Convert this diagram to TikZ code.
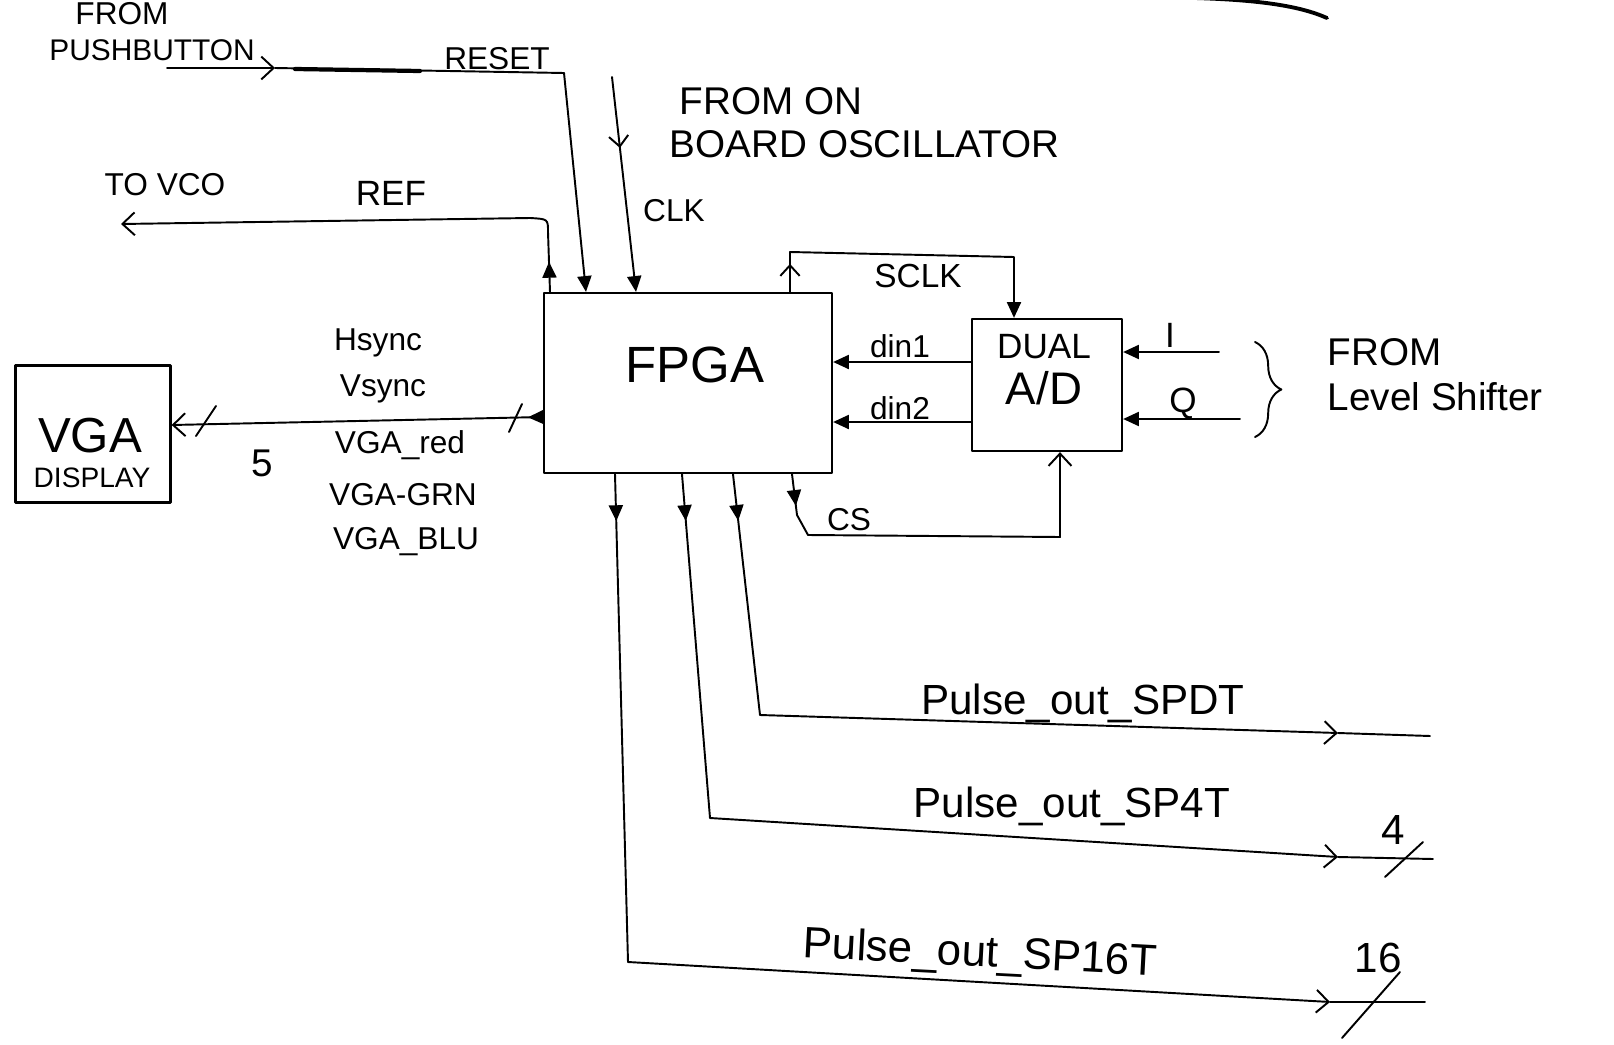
\documentclass[tikz,border=0pt]{standalone}
\usepackage{fontspec}
\setmainfont{Liberation Sans}
\usetikzlibrary{arrows.meta,decorations.markings,decorations.pathreplacing,calc}
\begin{document}
\begin{tikzpicture}[x=0.02cm,y=-0.02cm,
  line width=1.1pt, line cap=round, line join=round,
  box/.style={draw, rectangle, inner sep=0pt, line width=1.3pt},
  lbl/.style={inner sep=0pt, font=\fontsize{#1}{#1}\selectfont},
  ftip/.style={-{Triangle[length=9pt,width=8pt]}},
  otip/.style={-{Straight Barb[length=7pt,width=13pt]}},
  fmark/.style={postaction={decorate,decoration={markings,mark=at position #1 with {\arrow{Triangle[length=9pt,width=8pt]}}}}},
  omark/.style={postaction={decorate,decoration={markings,mark=at position #1 with {\arrow{Straight Barb[length=6pt,width=11pt]}}}}}
]
\useasboundingbox (0,0) rectangle (1614,1045);

% boxes
\node[box, minimum width=5.76cm, minimum height=3.6cm] (fpga) at (688,383) {};
\node[box, minimum width=3cm, minimum height=2.64cm] (ad) at (1047,385) {};
\node[box, minimum width=3.1cm, minimum height=2.74cm] (vga) at (93,434) {};

% texts
\node[lbl=29] (tfpga) at (695,365) {FPGA};
\node[lbl=20] (tdual) at (1044,347) {DUAL};
\node[lbl=26] (tad) at (1044,388) {A/D};
\node[lbl=28] (tvga) at (90,436) {VGA};
\node[lbl=16] (tdisp) at (92,478) {DISPLAY};
\node[lbl=18] (tfrom1) at (122,14) {FROM};
\node[lbl=17] (tpush) at (152,50) {PUSHBUTTON};
\node[lbl=18] (treset) at (497,59) {RESET};
\node[lbl=22, anchor=west] (tfromon) at (679,101) {FROM ON};
\node[lbl=22, anchor=west] (tboard) at (669,144) {BOARD OSCILLATOR};
\node[lbl=18] (tclk) at (674,211) {CLK};
\node[lbl=18] (tvco) at (165,185) {TO VCO};
\node[lbl=20] (tref) at (391,193) {REF};
\node[lbl=19] (tsclk) at (918,276) {SCLK};
\node[lbl=18] (tdin1) at (900,346) {din1};
\node[lbl=18] (tdin2) at (900,408) {din2};
\node[lbl=20] (ti) at (1170,335) {I};
\node[lbl=20] (tq) at (1183,404) {Q};
\node[lbl=22, anchor=west] (tfrom2) at (1327,352) {FROM};
\node[lbl=22, anchor=west] (tlev) at (1327,397) {Level Shifter};
\node[lbl=18] (thsync) at (378,343) {Hsync};
\node[lbl=18] (tvsync) at (383,389) {Vsync};
\node[lbl=18] (tred) at (400,445) {VGA\_red};
\node[lbl=18] (tgrn) at (403,495) {VGA-GRN};
\node[lbl=18] (tblu) at (406,542) {VGA\_BLU};
\node[lbl=22] (t5) at (262,463) {5};
\node[lbl=18] (tcs) at (849,520) {CS};
\node[lbl=24] (tspdt) at (1083,703) {Pulse\_out\_SPDT};
\node[lbl=24] (tsp4t) at (1072,806) {Pulse\_out\_SP4T};
\node[lbl=25, rotate=-3] (tsp16) at (980,955) {Pulse\_out\_SP16T};
\node[lbl=24] (t4) at (1393,830) {4};
\node[lbl=24] (t16) at (1378,958) {16};

% reset
\coordinate (pb0) at (167,68);
\coordinate (pb1) at (275,68);
\coordinate (rst) at (564,73);
\coordinate (xr) at (586,0);
\draw[otip] (pb0) -- (pb1);
\draw (pb1) -- (rst);
\draw[line width=2.4pt] (295,69) -- (420,71);
\draw[ftip] (rst) -- (fpga.north -| xr);

% clk
\coordinate (clk0) at (612,77);
\coordinate (xc) at (636,0);
\draw[ftip, omark=0.33] (clk0) -- (fpga.north -| xc);

% ref
\coordinate (xref) at (550,0);
\coordinate (ref1) at (548,232);
\coordinate (ref2) at (530,218);
\coordinate (vco) at (121,224);
\draw[otip, fmark=0.6cm] (fpga.north -| xref) -- (ref1) .. controls (548,219) .. (ref2) -- (vco);

% sclk
\coordinate (xs) at (790,0);
\coordinate (s1) at (790,252);
\coordinate (s2) at (1014,257);
\coordinate (xs2) at (1014,0);
\draw[ftip, omark=0.56cm] (fpga.north -| xs) -- (s1) -- (s2) -- (ad.north -| xs2);

% din
\coordinate (yd1) at (0,362);
\coordinate (yd2) at (0,422);
\draw[ftip] (ad.west |- yd1) -- (fpga.east |- yd1);
\draw[ftip] (ad.west |- yd2) -- (fpga.east |- yd2);

% I Q
\coordinate (iin) at (1219,352);
\coordinate (qin) at (1240,419);
\draw[ftip] (iin) -- (ad.east |- iin);
\draw[ftip] (qin) -- (ad.east |- qin);
\draw[decorate, decoration={brace, amplitude=15pt}] (1255,342) -- (1255,437);

% cs
\coordinate (xcs) at (792,0);
\coordinate (cs1) at (797,515);
\coordinate (cs2) at (808,535);
\coordinate (cs3) at (1060,537);
\coordinate (xcs2) at (1060,0);
\draw[otip, fmark=0.64cm] (fpga.south -| xcs) -- (cs1) -- (cs2) -- (cs3) -- (ad.south -| xcs2);

% outputs
\coordinate (xo1) at (615,0);
\coordinate (o1a) at (628,962);
\coordinate (o1b) at (1330,1002);
\coordinate (o1c) at (1425,1002);
\draw[otip, fmark=0.94cm] (fpga.south -| xo1) -- (o1a) -- (o1b);
\draw (o1b) -- (o1c);
\draw (1342,1038) -- (1400,972);

\coordinate (xo2) at (682,0);
\coordinate (o2a) at (710,818);
\coordinate (o2b) at (1338,857);
\coordinate (o2c) at (1433,859);
\draw[otip, fmark=0.94cm] (fpga.south -| xo2) -- (o2a) -- (o2b);
\draw (o2b) -- (o2c);
\draw (1385,877) -- (1423,842);

\coordinate (xo3) at (733,0);
\coordinate (o3a) at (760,715);
\coordinate (o3b) at (1338,733);
\coordinate (o3c) at (1430,736);
\draw[otip, fmark=0.94cm] (fpga.south -| xo3) -- (o3a) -- (o3b);
\draw (o3b) -- (o3c);

% vga bus
\coordinate (yv1) at (0,417);
\coordinate (yv2) at (0,425);
\draw[otip, fmark=0.3cm] (fpga.west |- yv1) -- (vga.east |- yv2);
\draw (196,436) -- (216,406);
\draw (509,432) -- (522,404);

% fragment at top
\draw[line width=2.2pt] (1195,-2) .. controls (1260,0) and (1300,6) .. (1327,18);
\end{tikzpicture}
\end{document}
